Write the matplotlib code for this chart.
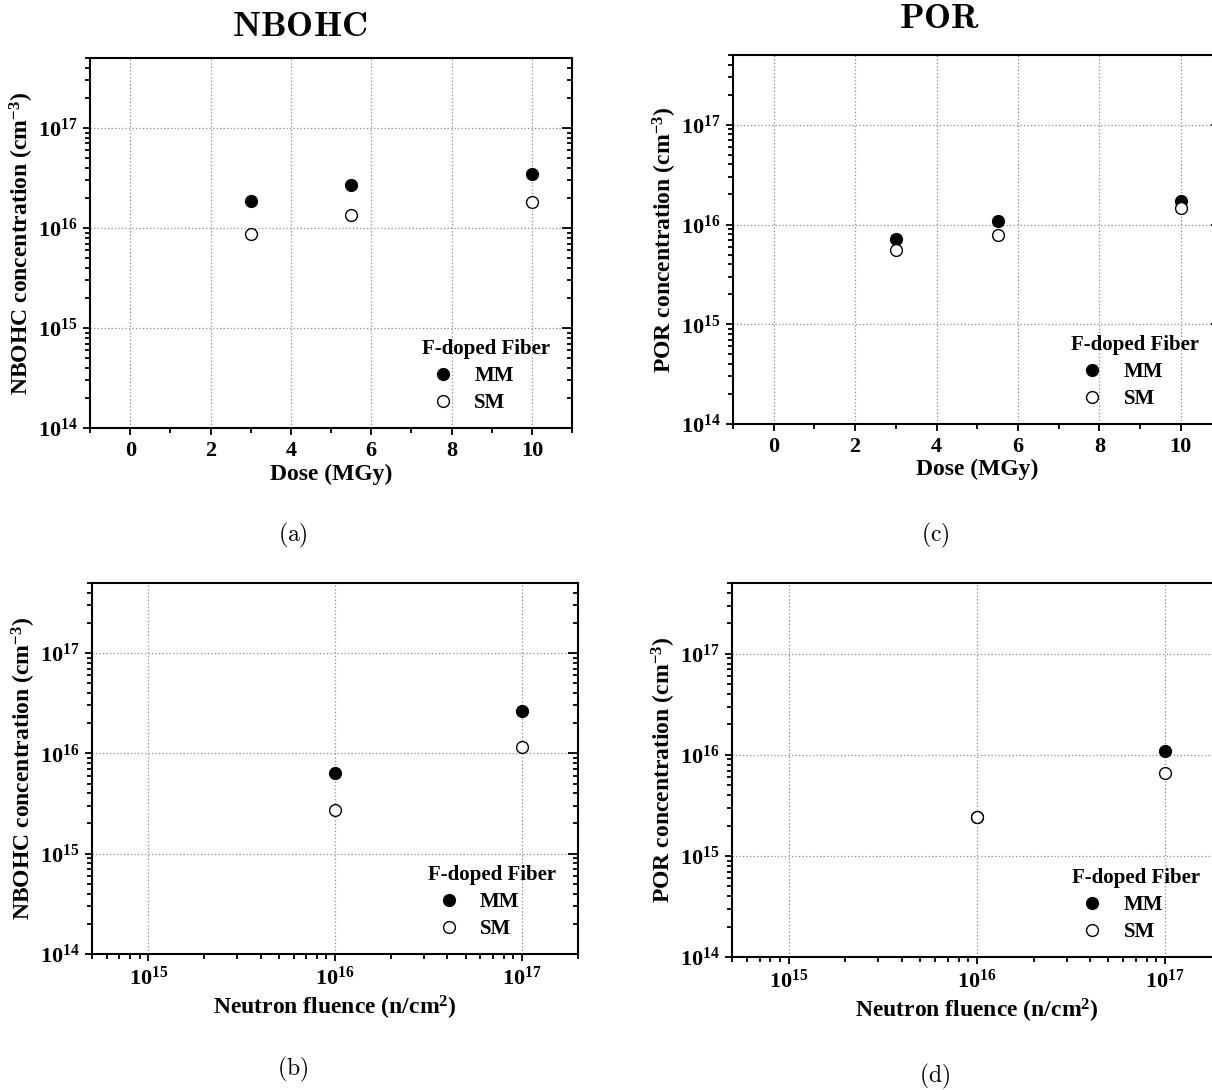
import numpy as np
import matplotlib
matplotlib.use("Agg")
import matplotlib.pyplot as plt
from matplotlib.ticker import MultipleLocator, LogLocator, FixedLocator, FixedFormatter, NullFormatter

plt.rcParams['font.family'] = ['Liberation Serif', 'DejaVu Serif']
plt.rcParams['font.weight'] = 'bold'
plt.rcParams['mathtext.fontset'] = 'custom'
plt.rcParams['mathtext.rm'] = 'Liberation Serif:bold'
plt.rcParams['mathtext.it'] = 'Liberation Serif:bold'
plt.rcParams['mathtext.bf'] = 'Liberation Serif:bold'

# dose series (MGy)
dose = [3, 5.5, 10]
nbohc_dose_mm = [1.88e16, 2.71e16, 3.49e16]
nbohc_dose_sm = [8.7e15, 1.36e16, 1.80e16]
por_dose_mm = [7.1e15, 1.09e16, 1.71e16]
por_dose_sm = [5.6e15, 7.8e15, 1.47e16]

# neutron fluence series (n/cm2)
fluence = [1e16, 1e17]
nbohc_flu_mm = [6.3e15, 2.63e16]
nbohc_flu_sm = [2.75e15, 1.16e16]
por_flu_mm = [2.45e15, 1.10e16]
por_flu_sm = [2.42e15, 6.6e15]

y_decades = [14, 15, 16, 17]
x_decades = [15, 16, 17]

LBL = 17
TICK = 16
LEG = 15


def decade_labels(exps):
    return [r'$\mathbf{10^{%d}}$' % e for e in exps]


def style_axes(ax, ylabel, logx=False):
    ax.set_yscale('log')
    ax.set_ylim(1e14, 5e17)
    ax.yaxis.set_major_locator(FixedLocator([10.0**e for e in y_decades]))
    ax.yaxis.set_major_formatter(FixedFormatter(decade_labels(y_decades)))
    ax.yaxis.set_minor_locator(LogLocator(base=10, subs=np.arange(2, 10)))
    ax.yaxis.set_minor_formatter(NullFormatter())
    if logx:
        ax.set_xscale('log')
        ax.set_xlim(5e14, 2e17)
        ax.xaxis.set_major_locator(FixedLocator([10.0**e for e in x_decades]))
        ax.xaxis.set_major_formatter(FixedFormatter(decade_labels(x_decades)))
        ax.xaxis.set_minor_locator(LogLocator(base=10, subs=np.arange(2, 10)))
        ax.xaxis.set_minor_formatter(NullFormatter())
        ax.set_xlabel(r'Neutron fluence (n/cm$^{2}$)', fontsize=LBL, fontweight='bold', labelpad=3)
    else:
        ax.set_xlim(-1, 11)
        ax.xaxis.set_major_locator(MultipleLocator(2))
        ax.xaxis.set_minor_locator(MultipleLocator(1))
        ax.set_xlabel('Dose (MGy)', fontsize=LBL, fontweight='bold', labelpad=2)
    ax.set_ylabel(ylabel, fontsize=LBL, fontweight='bold', labelpad=1)
    ax.tick_params(which='both', direction='out', top=False, right=False, labelsize=TICK, width=1.3)
    ax.tick_params(which='major', length=5, pad=4)
    ax.tick_params(which='minor', length=3.5)
    ax.grid(True, which='major', color='#8c8c8c', linestyle=(0, (1, 1.8)), linewidth=0.9)
    for s in ax.spines.values():
        s.set_linewidth(1.5)
    for t in ax.get_xticklabels() + ax.get_yticklabels():
        t.set_fontweight('bold')

    # inward ticks on the right side
    ax2 = ax.twinx()
    ax2.set_yscale('log')
    ax2.set_ylim(ax.get_ylim())
    ax2.yaxis.set_major_locator(FixedLocator([10.0**e for e in y_decades]))
    ax2.yaxis.set_minor_locator(LogLocator(base=10, subs=np.arange(2, 10)))
    ax2.tick_params(which='both', direction='in', labelright=False, width=1.3)
    ax2.tick_params(which='major', length=7)
    ax2.tick_params(which='minor', length=3.5)
    for s in ax2.spines.values():
        s.set_visible(False)


def plot_pair(ax, x, mm, sm):
    ax.plot(x, mm, 'o', color='black', markersize=8.5, label='MM', zorder=3)
    ax.plot(x, sm, 'o', markerfacecolor='white', markeredgecolor='black',
            markeredgewidth=1.0, markersize=8.5, label='SM', zorder=4)
    leg = ax.legend(loc='lower right', bbox_to_anchor=(0.985, 0.0), frameon=False,
                    title='F-doped Fiber', prop={'weight': 'bold', 'size': LEG},
                    title_fontproperties={'weight': 'bold', 'size': LEG},
                    handletextpad=0.5, labelspacing=0.35, borderpad=0.2)
    leg._legend_box.align = 'left'


fig = plt.figure(figsize=(12.12, 10.9), dpi=100)

ax_a = fig.add_axes([0.0743, 0.6073, 0.3977, 0.3394])
ax_b = fig.add_axes([0.0759, 0.1248, 0.4010, 0.3404])
ax_c = fig.add_axes([0.6048, 0.6110, 0.4030, 0.3385])
ax_d = fig.add_axes([0.6040, 0.1220, 0.4040, 0.3430])

plot_pair(ax_a, dose, nbohc_dose_mm, nbohc_dose_sm)
style_axes(ax_a, r'NBOHC concentration (cm$^{-3}$)')
plot_pair(ax_b, fluence, nbohc_flu_mm, nbohc_flu_sm)
style_axes(ax_b, r'NBOHC concentration (cm$^{-3}$)', logx=True)
plot_pair(ax_c, dose, por_dose_mm, por_dose_sm)
style_axes(ax_c, r'POR concentration (cm$^{-3}$)')
plot_pair(ax_d, fluence, por_flu_mm, por_flu_sm)
style_axes(ax_d, r'POR concentration (cm$^{-3}$)', logx=True)

fig.text(0.2475, 0.975, r'$\mathbf{NBOHC}$', fontsize=26, ha='center', va='center', math_fontfamily='cm')
fig.text(0.7756, 0.9817, r'$\mathbf{POR}$', fontsize=26, ha='center', va='center', math_fontfamily='cm')

for x, y, s in [(0.2418, 0.509, '(a)'), (0.7715, 0.509, '(c)'),
                (0.2418, 0.0193, '(b)'), (0.7715, 0.0128, '(d)')]:
    fig.text(x, y, r'$\mathrm{%s}$' % s, fontsize=17, ha='center', va='center', math_fontfamily='cm')

fig.savefig('out.png', dpi=100)
